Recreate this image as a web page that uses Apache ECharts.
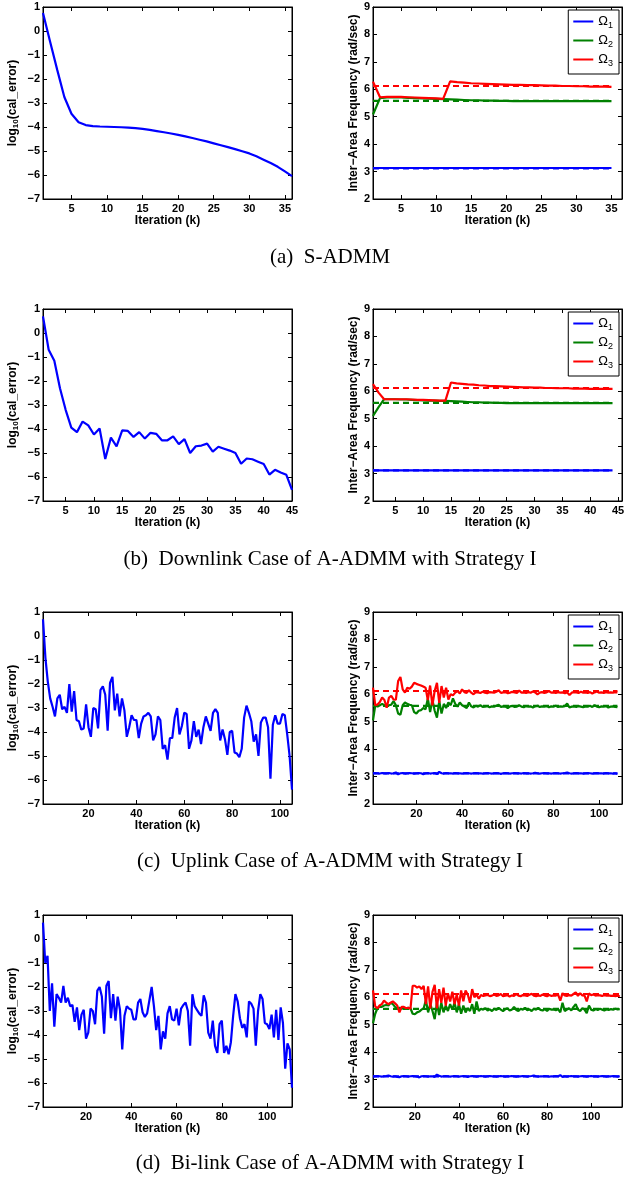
<!DOCTYPE html>
<html><head><meta charset="utf-8">
<script src="https://cdn.jsdelivr.net/npm/echarts@6/dist/echarts.min.js"></script>
<style>html,body{margin:0;padding:0;background:#fff}#c{width:627px;height:1178px}</style>
</head><body><div id="c"></div>
<script>
// ---- left column: log10(cal_error) ----
const errA = [0.75,-0.45,-1.62,-2.75,-3.45,-3.8,-3.92,-3.96,-3.98,-3.99,
  -4.0,-4.01,-4.03,-4.05,-4.08,-4.12,-4.17,-4.22,-4.27,-4.33,
  -4.39,-4.46,-4.53,-4.6,-4.68,-4.76,-4.84,-4.92,-5.01,-5.1,
  -5.22,-5.36,-5.5,-5.66,-5.85,-6.05];
const errB = [0.69,-0.7,-1.16,-2.3,-3.2,-3.94,-4.13,-3.69,-3.85,-4.23,
  -3.98,-5.25,-4.36,-4.72,-4.06,-4.08,-4.33,-4.13,-4.4,-4.16,
  -4.2,-4.47,-4.47,-4.31,-4.63,-4.42,-5.0,-4.72,-4.69,-4.61,
  -4.94,-4.74,-4.82,-4.9,-5.0,-5.45,-5.23,-5.26,-5.36,-5.46,
  -5.9,-5.7,-5.81,-5.91,-6.54];
const errC = [0.7,-0.9,-1.9,-2.6,-2.95,-3.35,-2.6,-2.45,-3.05,-2.95,
  -3.2,-2.0,-3.15,-2.3,-3.5,-3.55,-3.9,-3.85,-2.85,-3.8,
  -4.2,-3.0,-3.05,-3.85,-2.25,-2.1,-2.45,-3.95,-1.95,-1.7,
  -3.1,-2.4,-3.35,-2.6,-3.1,-4.2,-3.8,-3.3,-3.5,-3.5,
  -4.25,-3.65,-3.35,-3.3,-3.2,-3.35,-4.35,-4.1,-3.35,-3.5,
  -4.7,-4.55,-5.15,-4.25,-4.25,-3.4,-3.0,-4.1,-3.75,-3.2,
  -3.25,-4.7,-4.35,-3.55,-4.2,-3.9,-4.5,-3.8,-3.35,-3.65,
  -3.95,-3.2,-3.05,-3.2,-4.35,-3.9,-4.3,-4.95,-4.0,-3.95,
  -4.85,-4.9,-5.05,-4.7,-3.4,-2.9,-3.2,-3.55,-4.4,-4.1,
  -5.0,-3.6,-3.4,-3.4,-3.8,-5.95,-3.7,-3.3,-3.65,-3.65,
  -3.25,-3.3,-4.1,-5.0,-6.4];
const errD = [0.68,-1.0,-0.7,-3.0,-1.85,-3.65,-2.3,-2.45,-2.65,-1.95,
  -2.65,-2.45,-2.8,-2.75,-3.45,-2.85,-3.8,-3.15,-2.95,-4.15,
  -3.9,-2.9,-3.0,-3.55,-2.15,-2.0,-2.4,-3.95,-1.95,-1.75,
  -3.3,-2.3,-3.4,-2.4,-2.95,-4.6,-3.2,-2.8,-2.9,-2.95,
  -3.35,-3.35,-2.65,-2.5,-3.05,-3.25,-3.1,-2.55,-2.0,-2.8,
  -3.8,-3.2,-4.6,-3.85,-4.15,-3.1,-2.8,-3.35,-3.4,-2.9,
  -3.6,-2.9,-2.75,-2.65,-3.0,-4.45,-2.3,-2.8,-2.95,-3.1,
  -3.2,-2.35,-2.65,-3.9,-4.15,-3.4,-4.45,-4.75,-3.55,-3.4,
  -4.75,-4.45,-4.8,-4.3,-3.2,-2.3,-2.6,-3.3,-3.7,-3.55,
  -4.1,-2.6,-2.7,-2.9,-4.45,-3.0,-2.3,-2.5,-3.5,-3.55,
  -3.75,-3.15,-4.1,-2.95,-4.2,-2.85,-3.5,-5.4,-4.35,-4.6,
  -6.2];

// ---- right column: inter-area frequencies ----
const w1A = [3.13,3.13,3.13,3.13,3.13,3.13,3.13,3.13,3.13,3.13,3.13,3.13,3.13,3.13,3.13,3.13,3.13,3.13,
  3.13,3.13,3.13,3.13,3.13,3.13,3.13,3.13,3.13,3.13,3.13,3.13,3.13,3.13,3.13,3.13,3.13];
const w2A = [5.08,5.68,5.7,5.7,5.7,5.69,5.68,5.67,5.66,5.65,5.64,5.63,5.62,5.61,5.6,5.6,5.59,5.59,5.58,5.58,
  5.57,5.57,5.57,5.57,5.57,5.57,5.57,5.57,5.57,5.57,5.57,5.57,5.57,5.57,5.57];
const w3A = [6.28,5.71,5.72,5.72,5.72,5.71,5.7,5.69,5.68,5.67,5.65,6.29,6.26,6.24,6.22,6.21,6.2,6.19,6.18,6.17,
  6.16,6.16,6.15,6.15,6.14,6.13,6.13,6.12,6.12,6.11,6.11,6.1,6.1,6.1,6.09];

const w1B = [3.12,3.12,3.12,3.12,3.12,3.12,3.12,3.12,3.12,3.12,3.12,3.12,3.12,3.12,3.12,3.12,3.12,3.12,3.12,3.12,3.12,3.12,
  3.12,3.12,3.12,3.12,3.12,3.12,3.12,3.12,3.12,3.12,3.12,3.12,3.12,3.12,3.12,3.12,3.12,3.12,3.12,3.12,3.12,3.12];
const w2B = [5.1,5.42,5.71,5.71,5.71,5.7,5.7,5.69,5.68,5.67,5.66,5.66,5.65,5.65,5.64,5.63,5.62,5.61,5.6,5.6,
  5.59,5.59,5.58,5.58,5.57,5.57,5.57,5.57,5.57,5.57,5.57,5.57,5.57,5.57,5.57,5.57,5.57,5.57,5.57,5.57,
  5.57,5.57,5.57,5.57];
const w3B = [6.26,5.95,5.71,5.71,5.71,5.71,5.71,5.7,5.69,5.69,5.68,5.67,5.66,5.66,6.32,6.29,6.27,6.25,6.24,6.22,
  6.21,6.19,6.19,6.18,6.17,6.16,6.15,6.14,6.14,6.13,6.13,6.12,6.12,6.11,6.11,6.11,6.1,6.1,6.1,6.09,
  6.09,6.09,6.09,6.09];

const w1C = [3.12,3.13,3.12,3.11,3.13,3.12,3.12,3.13,3.11,3.12,
  3.15,3.08,3.12,3.13,3.11,3.12,3.13,3.12,3.11,3.12,
  3.13,3.12,3.09,3.12,3.13,3.11,3.12,3.13,3.09,3.17,
  3.12,3.11,3.13,3.12,3.12,3.11,3.13,3.12,3.12,3.11,
  3.12,3.13,3.12,3.11,3.12,3.13,3.12,3.12,3.11,3.12,
  3.13,3.12,3.11,3.12,3.13,3.12,3.1,3.12,3.13,3.12,
  3.11,3.12,3.13,3.12,3.12,3.11,3.13,3.12,3.12,3.11,
  3.12,3.14,3.12,3.11,3.12,3.13,3.12,3.12,3.11,3.12,
  3.13,3.12,3.11,3.12,3.13,3.15,3.12,3.11,3.12,3.13,
  3.12,3.12,3.11,3.12,3.13,3.12,3.11,3.12,3.13,3.12,
  3.12,3.11,3.13,3.12,3.12,3.11,3.12,3.1];
const w2C = [5.05,5.6,5.55,5.6,5.65,5.6,5.55,5.6,5.62,5.75,
  5.6,5.3,5.25,5.6,5.7,5.65,5.62,5.6,5.35,5.3,
  5.4,5.42,5.5,5.45,5.85,5.35,5.8,5.4,5.15,5.75,
  5.3,5.65,5.5,5.7,5.6,5.85,5.65,5.55,5.7,5.6,
  5.55,5.5,5.7,5.56,5.52,5.58,5.55,5.6,5.54,5.55,
  5.57,5.53,5.56,5.55,5.58,5.62,5.54,5.56,5.55,5.5,
  5.56,5.58,5.54,5.55,5.6,5.55,5.53,5.57,5.55,5.56,
  5.52,5.56,5.58,5.54,5.56,5.55,5.57,5.53,5.56,5.55,
  5.58,5.54,5.56,5.55,5.57,5.66,5.52,5.55,5.56,5.54,
  5.57,5.55,5.53,5.56,5.55,5.58,5.54,5.6,5.55,5.53,
  5.56,5.55,5.57,5.52,5.55,5.56,5.54,5.53];
const w3C = [6.24,5.6,5.63,5.72,5.88,5.79,5.51,5.88,5.94,5.81,
  5.8,6.48,6.63,6.18,6.06,6.24,6.2,6.28,6.42,6.38,
  6.35,6.32,6.28,6.24,5.79,6.32,5.6,6.12,6.42,5.69,
  6.3,5.88,6.24,5.81,6.0,5.96,6.06,6.12,6.03,6.18,
  6.08,6.05,6.15,6.06,6.0,6.08,6.07,6.05,6.09,6.06,
  6.04,6.08,6.07,6.06,6.09,6.15,6.05,6.07,6.08,6.04,
  6.06,6.09,6.07,6.05,6.14,6.06,6.07,6.05,6.08,6.06,
  6.1,6.07,6.0,6.06,6.08,6.05,6.07,6.12,6.06,6.07,
  6.05,6.08,6.06,6.07,6.04,6.07,5.97,6.06,6.08,6.07,
  6.05,6.09,6.06,6.07,6.05,6.08,6.03,6.07,6.1,6.06,
  6.07,6.05,6.08,6.06,6.07,6.06,6.08,6.07];

const w1D = [3.12,3.12,3.13,3.12,3.11,3.12,3.13,3.15,3.12,3.11,
  3.12,3.1,3.09,3.12,3.13,3.12,3.11,3.12,3.13,3.12,
  3.11,3.08,3.12,3.13,3.12,3.11,3.12,3.12,3.1,3.18,
  3.14,3.11,3.12,3.13,3.12,3.11,3.12,3.13,3.12,3.11,
  3.12,3.13,3.12,3.1,3.12,3.13,3.12,3.11,3.12,3.13,
  3.12,3.11,3.12,3.13,3.12,3.12,3.11,3.12,3.13,3.12,
  3.11,3.12,3.12,3.13,3.12,3.11,3.12,3.12,3.13,3.12,
  3.11,3.12,3.13,3.15,3.12,3.11,3.12,3.12,3.13,3.12,
  3.11,3.12,3.12,3.13,3.12,3.16,3.1,3.12,3.11,3.12,
  3.13,3.12,3.12,3.11,3.12,3.13,3.12,3.11,3.12,3.13,
  3.12,3.12,3.11,3.12,3.13,3.12,3.11,3.12,3.12,3.13,
  3.12,3.11,3.12];
const w2D = [5.05,5.4,5.6,5.65,5.65,5.7,5.72,5.7,5.8,5.75,
  5.65,5.6,5.62,5.58,5.6,5.6,5.62,5.6,5.4,5.38,
  5.45,5.48,5.55,5.6,5.9,5.45,5.75,5.5,5.2,5.8,
  5.35,5.8,5.45,5.7,5.5,5.75,5.55,5.8,5.45,5.75,
  5.4,5.7,5.45,5.6,5.5,5.75,5.4,5.85,5.5,5.58,
  5.55,5.6,5.52,5.56,5.5,5.58,5.54,5.62,5.55,5.5,
  5.56,5.6,5.52,5.55,5.65,5.54,5.5,5.58,5.55,5.62,
  5.53,5.56,5.5,5.58,5.55,5.62,5.54,5.52,5.57,5.5,
  5.58,5.55,5.56,5.53,5.57,5.45,5.8,5.5,5.55,5.6,
  5.52,5.65,5.75,5.55,5.5,5.6,5.55,5.42,5.7,5.55,
  5.52,5.57,5.54,5.58,5.55,5.52,5.56,5.54,5.57,5.55,
  5.58,5.56,5.57];
const w3D = [6.25,5.67,5.6,5.7,5.75,5.88,5.8,5.75,5.8,5.85,
  5.78,5.7,5.45,5.65,5.65,5.6,5.62,5.58,6.42,6.42,
  6.35,6.4,6.3,6.42,5.75,6.4,5.6,6.2,6.45,5.6,
  6.3,5.8,6.35,5.7,6.15,5.85,6.2,5.75,6.1,5.7,
  6.25,5.85,6.25,6.1,5.8,6.3,6.0,6.1,5.95,6.08,
  6.05,6.07,6.09,6.04,6.06,6.1,6.05,6.07,6.12,6.04,
  6.06,6.08,6.03,6.07,6.05,6.12,6.06,6.04,6.08,6.07,
  6.05,6.09,6.13,6.06,6.04,6.07,6.05,6.1,6.06,6.04,
  6.08,6.05,6.07,6.06,6.1,5.88,6.15,6.07,6.05,6.08,
  6.06,6.12,6.18,6.05,6.15,6.07,6.06,5.85,6.14,6.08,
  6.1,6.06,6.08,6.07,6.05,6.08,6.06,6.07,6.05,6.06,
  6.04,6.06,6.03];

// true inter-area frequencies (dashed references): Omega1, Omega2, Omega3
const refW = [3.12, 5.58, 6.12];

// ---- axes / ticks / text ----
const xTicksA = [5,10,15,20,25,30,35];
const xTicksB = [5,10,15,20,25,30,35,40,45];
const xTicksCD = [20,40,60,80,100];
const xMaxLeft = [36, 45, 105, 111];
const xMaxRight = [36.5, 45.7, 110, 114];
const errRange = [-7, 1];
const freqRange = [2, 9];
const seriesNames = ['Ω1','Ω2','Ω3'];
const captions = ['(a)  S-ADMM', '(b)  Downlink Case of A-ADMM with Strategy I',
  '(c)  Uplink Case of A-ADMM with Strategy I', '(d)  Bi-link Case of A-ADMM with Strategy I'];

const errSets = [errA, errB, errC, errD];
const freqSets = [[w1A,w2A,w3A],[w1B,w2B,w3B],[w1C,w2C,w3C],[w1D,w2D,w3D]];
const xTickSets = [xTicksA, xTicksB, xTicksCD, xTicksCD];

// ---- layout ----
const tops = [7, 309, 612, 915];
const PH = 192, PW = 249, LEFT_L = 43, LEFT_R = 373;
const capY = [242, 544, 846, 1148];
const colors = ['#0000ff', '#008000', '#ff0000'];
const FONT = 'Liberation Sans';

const grids = [], xAxis = [], yAxis = [], series = [], legend = [], title = [];
const lab = {fontSize: 11, fontWeight: 'bold', color: '#000', fontFamily: FONT};
const nameStyle = {fontSize: 12, fontWeight: 'bold', color: '#000', fontFamily: FONT,
  rich: {
    n: {fontSize: 12, fontWeight: 'bold', color: '#000', fontFamily: FONT},
    s: {fontSize: 8, fontWeight: 'bold', color: '#000', fontFamily: FONT, padding: [7,0,0,0]}
  }};
const minus = v => String(v).replace('-', '\u2212');

function addPanel(left, top, xmax, xticks, yr, yname, yGap) {
  const gi = grids.length;
  grids.push({left, top, width: PW, height: PH, show: true, borderColor: '#000', borderWidth: 1,
    backgroundColor: '#fff', containLabel: false, outerBoundsMode: 'none'});
  const xi = xAxis.length;
  xAxis.push({gridIndex: gi, type: 'value', min: 1, max: xmax, position: 'bottom',
    axisLine: {show: true, onZero: false, lineStyle: {color: '#000', width: 1}},
    axisTick: {show: true, inside: true, length: 4, customValues: xticks, lineStyle: {color: '#000'}},
    axisLabel: Object.assign({customValues: xticks, margin: 4}, lab),
    splitLine: {show: false},
    name: 'Iteration (k)', nameLocation: 'middle', nameGap: 16,
    nameTextStyle: {fontSize: 12, fontWeight: 'bold', color: '#000', fontFamily: FONT}});
  xAxis.push({gridIndex: gi, type: 'value', min: 1, max: xmax, position: 'top',
    axisLine: {show: true, onZero: false, lineStyle: {color: '#000', width: 1}},
    axisTick: {show: true, inside: true, length: 4, customValues: xticks, lineStyle: {color: '#000'}},
    axisLabel: {show: false}, splitLine: {show: false}});
  const yi = yAxis.length;
  yAxis.push({gridIndex: gi, type: 'value', min: yr[0], max: yr[1], interval: 1, position: 'left',
    axisLine: {show: true, onZero: false, lineStyle: {color: '#000', width: 1}},
    axisTick: {show: true, inside: true, length: 4, lineStyle: {color: '#000'}},
    axisLabel: Object.assign({margin: 3, formatter: minus}, lab),
    splitLine: {show: false},
    name: yname, nameLocation: 'middle', nameRotate: 90, nameGap: yGap, nameTextStyle: nameStyle});
  yAxis.push({gridIndex: gi, type: 'value', min: yr[0], max: yr[1], interval: 1, position: 'right',
    axisLine: {show: true, onZero: false, lineStyle: {color: '#000', width: 1}},
    axisTick: {show: true, inside: true, length: 4, lineStyle: {color: '#000'}},
    axisLabel: {show: false}, splitLine: {show: false}});
  return {xi, yi};
}

const pairs = arr => arr.map((v, i) => [i + 1, v]);

for (let p = 0; p < 4; p++) {
  // left: calibration error
  const L = addPanel(LEFT_L, tops[p], xMaxLeft[p], xTickSets[p], errRange,
    '{n|log}{s|10}{n|(cal_error)}', 23);
  series.push({type: 'line', name: 'err' + p, xAxisIndex: L.xi, yAxisIndex: L.yi,
    data: pairs(errSets[p]), symbol: 'none', silent: true,
    lineStyle: {color: '#0000ff', width: 2.2}, itemStyle: {color: '#0000ff'}});
  // right: frequencies
  const R = addPanel(LEFT_R, tops[p], xMaxRight[p], xTickSets[p], freqRange,
    'Inter\u2212Area Frequency (rad/sec)', 7);
  const n = freqSets[p][0].length;
  for (let k = 0; k < 3; k++) {
    series.push({type: 'line', name: 'ref' + k, xAxisIndex: R.xi, yAxisIndex: R.yi,
      data: [[1, refW[k]], [n, refW[k]]], symbol: 'none', silent: true,
      lineStyle: {color: colors[k], width: 2.2, type: [6, 4]}, itemStyle: {color: colors[k]}});
  }
  for (let k = 0; k < 3; k++) {
    series.push({type: 'line', name: seriesNames[k], xAxisIndex: R.xi, yAxisIndex: R.yi,
      data: pairs(freqSets[p][k]), symbol: 'none', silent: true,
      lineStyle: {color: colors[k], width: 2.2}, itemStyle: {color: colors[k]}});
  }
  legend.push({orient: 'vertical', right: 8, top: tops[p] + 3, data: seriesNames,
    icon: 'rect', itemWidth: 20, itemHeight: 2, itemGap: 4, padding: [5, 6, 6, 5],
    backgroundColor: '#fff', borderColor: '#000', borderWidth: 1, borderRadius: 0,
    selectedMode: false,
    formatter: nm => '{a|Ω}{s|' + nm.slice(1) + '}',
    textStyle: {color: '#000', rich: {
      a: {fontSize: 13, fontFamily: FONT, color: '#000', lineHeight: 16},
      s: {fontSize: 9, fontFamily: FONT, color: '#000', padding: [8, 0, 0, 0]}}}});
  title.push({text: captions[p], left: 325, top: capY[p], textAlign: 'center',
    textStyle: {fontFamily: 'Liberation Serif', fontWeight: 'normal', fontSize: 21, color: '#000'}});
}

const chart = echarts.init(document.getElementById('c'), null, {renderer: 'canvas'});
chart.setOption({animation: false, backgroundColor: '#fff', grid: grids, xAxis, yAxis, series, legend, title,
  tooltip: {show: false}});
</script></body></html>
